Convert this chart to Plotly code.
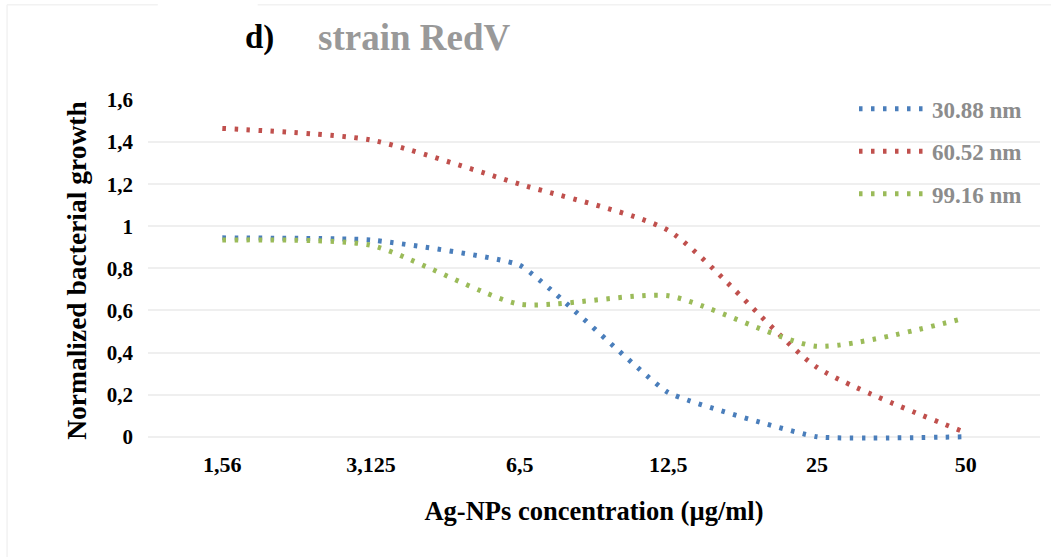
import plotly.graph_objects as go

categories = ["1,56", "3,125", "6,5", "12,5", "25", "50"]
s30 = [0.945, 0.935, 0.815, 0.21, 0.0, 0.0]
s60 = [1.465, 1.41, 1.2, 0.98, 0.33, 0.02]
s99 = [0.935, 0.91, 0.63, 0.67, 0.43, 0.565]
names = ["30.88 nm", "60.52 nm", "99.16 nm"]
colors = ["#4A7EBB", "#C0504D", "#9BBB59"]
yticks = [0, 0.2, 0.4, 0.6, 0.8, 1.0, 1.2, 1.4, 1.6]
ytext = ["0", "0,2", "0,4", "0,6", "0,8", "1", "1,2", "1,4", "1,6"]

FONT = "Liberation Serif"

fig = go.Figure()
for i, (vals, nm, c) in enumerate(zip([s30, s60, s99], names, colors)):
    fig.add_trace(go.Scatter(
        x=categories, y=vals, name=nm, mode="lines",
        line=dict(color=c, width=5, dash="3.5px,8.5px", shape="spline",
                  smoothing=0.35 if i == 0 else 0.6),
        cliponaxis=False, legendgroup=f"g{i}",
    ))

fig.update_layout(
    width=1051, height=557,
    margin=dict(l=148, r=11, t=100, b=116),
    paper_bgcolor="white", plot_bgcolor="white",
    font=dict(family=FONT, color="black", size=21, weight="bold"),
    showlegend=True,
    legend=dict(
        x=0.7915, y=1.037, xanchor="left", yanchor="top",
        bgcolor="rgba(0,0,0,0)", itemwidth=68,
        font=dict(family=FONT, size=23, color="#8C8C8C", weight="bold"),
        tracegroupgap=9.5, traceorder="grouped",
    ),
    xaxis=dict(
        type="category", range=[-0.5, 5.5], showgrid=False, zeroline=False, showline=False,
        ticks="", ticklabelstandoff=8,
        tickfont=dict(family=FONT, size=22, color="black", weight="bold"),
        title=dict(text="Ag-NPs concentration (µg/ml)", standoff=25,
                   font=dict(family=FONT, size=26.5, color="black", weight="bold")),
    ),
    yaxis=dict(
        range=[-0.02, 1.6], tickvals=yticks, ticktext=ytext,
        showgrid=True, gridcolor="#EFEFEF", gridwidth=1.5,
        zeroline=False, showline=False, ticks="", ticklabelstandoff=14,
        tickfont=dict(family=FONT, size=21, color="black", weight="bold"),
        title=dict(text="Normalized bacterial growth", standoff=12,
                   font=dict(family=FONT, size=27.5, color="black", weight="bold")),
    ),
    annotations=[
        dict(text="d)", xref="paper", yref="paper", x=0.1065, y=1.184,
             xanchor="left", yanchor="middle", showarrow=False,
             font=dict(family=FONT, size=33, color="black", weight="bold")),
        dict(text="strain RedV", xref="paper", yref="paper", x=0.1883, y=1.184,
             xanchor="left", yanchor="middle", showarrow=False,
             font=dict(family=FONT, size=37, color="#999999", weight="bold")),
    ],
    shapes=[
        dict(type="line", xref="paper", yref="paper", x0=-0.158, x1=0.011, y0=1.279, y1=1.279,
             line=dict(color="#F2F2F2", width=1.5)),
        dict(type="line", xref="paper", yref="paper", x0=0.123, x1=1.02, y0=1.279, y1=1.279,
             line=dict(color="#F2F2F2", width=1.5)),
        dict(type="line", xref="paper", yref="paper", x0=-0.158, x1=-0.158, y0=1.279, y1=-0.36,
             line=dict(color="#F2F2F2", width=1.5)),
    ],
)

fig.write_html("out.html")
